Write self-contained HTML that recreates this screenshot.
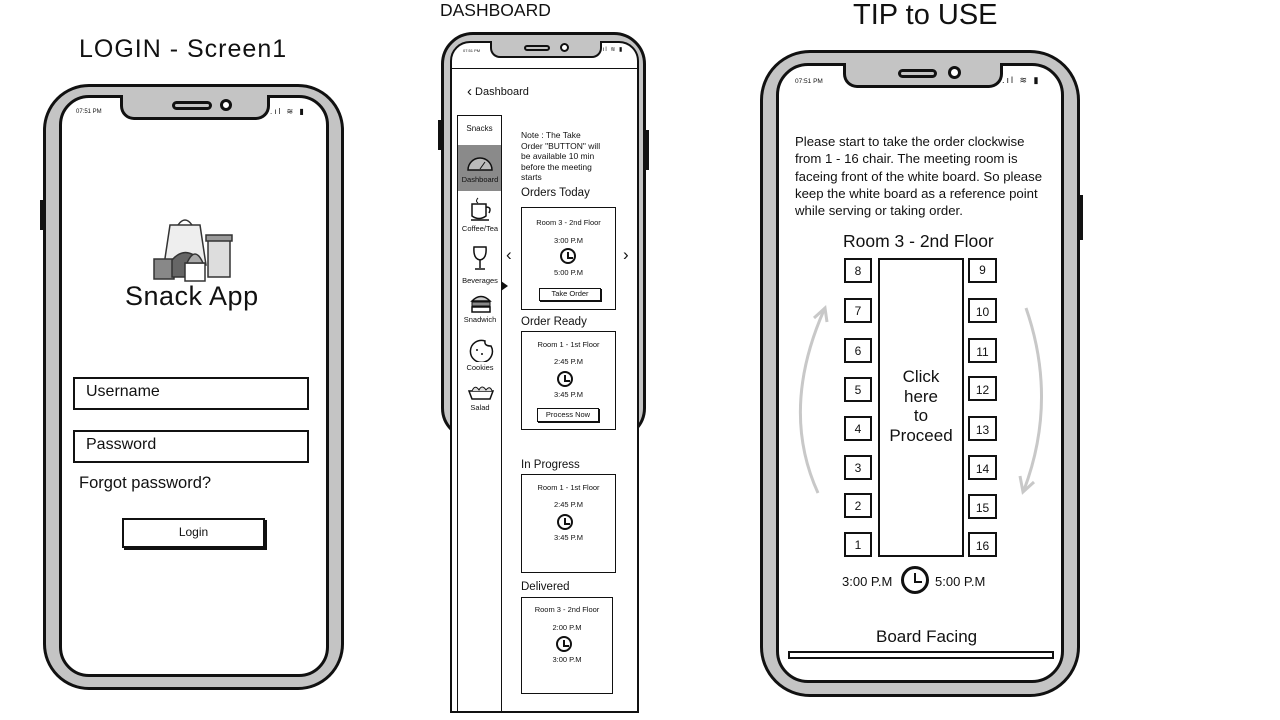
<!DOCTYPE html>
<html><head><meta charset="utf-8">
<style>
*{margin:0;padding:0;box-sizing:border-box}
body{width:1280px;height:720px;background:#fff;position:relative;overflow:hidden;font-family:"Liberation Sans",sans-serif;color:#111}
.a{position:absolute}
.phone{position:absolute;border:3px solid #111;background:#c4c4c4}
.screen{position:absolute;background:#fff;border:3px solid #111}
.notch{position:absolute;background:#c4c4c4;border:3px solid #111;border-top:none;border-radius:0 0 14px 14px}
.spk{position:absolute;border:3px solid #111;border-radius:6px;background:#c4c4c4}
.cam{position:absolute;border:3px solid #111;border-radius:50%;background:#fff}
.t{position:absolute;white-space:nowrap}
.box{position:absolute;border:2px solid #111;background:#fff}
.clock{position:absolute;border:2.5px solid #111;border-radius:50%;background:#fff}
.clock:after{content:"";position:absolute;left:45%;top:20%;width:30%;height:35%;border-left:2px solid #111;border-bottom:2px solid #111}
.c{text-align:center}
</style></head><body>

<!-- Titles -->
<div class="t" style="left:79px;top:35px;font-size:25px;letter-spacing:1px">LOGIN - Screen1</div>
<div class="t" style="left:440px;top:0px;font-size:17.5px">DASHBOARD</div>
<div class="t" style="left:853px;top:-1px;font-size:29px">TIP to USE</div>

<!-- LOGIN PHONE -->
<div class="a" style="left:40px;top:200px;width:5px;height:30px;background:#111"></div>
<div class="phone" style="left:43px;top:84px;width:301px;height:606px;border-radius:46px"></div>
<div class="screen" style="left:59px;top:95px;width:270px;height:582px;border-radius:30px"></div>
<div class="notch" style="left:120px;top:95px;width:150px;height:25px"></div>
<div class="spk" style="left:172px;top:101px;width:40px;height:9px"></div>
<div class="cam" style="left:220px;top:99px;width:12px;height:12px"></div>
<div class="t" style="left:76px;top:109px;font-size:6px">07:51 PM</div>
<div class="t" style="left:270px;top:107px;font-size:8px;letter-spacing:2px">.ıl ≋ ▮</div>

<svg class="a" style="left:140px;top:215px" width="95" height="70">
 <g fill="#bbb" stroke="#333" stroke-width="1.5">
  <path d="M30 10 L60 10 L66 50 L24 50 Z" fill="#eee"/>
  <path d="M38 10 Q45 0 52 10" fill="none"/>
  <rect x="68" y="22" width="22" height="40" fill="#ddd"/>
  <rect x="66" y="20" width="26" height="6" fill="#999"/>
  <rect x="14" y="44" width="20" height="20" fill="#888"/>
  <path d="M32 62 L32 45 Q45 30 60 45 L60 62 Z" fill="#666"/>
  <rect x="45" y="48" width="20" height="18" fill="#fff"/>
  <path d="M47 48 Q55 30 63 48 Z" fill="#aaa"/>
 </g>
</svg>
<div class="t" style="left:125px;top:281px;font-size:27px;letter-spacing:0.5px">Snack App</div>
<div class="box" style="left:73px;top:377px;width:236px;height:33px"></div>
<div class="t" style="left:86px;top:383px;font-size:16px">Username</div>
<div class="box" style="left:73px;top:430px;width:236px;height:33px"></div>
<div class="t" style="left:86px;top:436px;font-size:16px">Password</div>
<div class="t" style="left:79px;top:474px;font-size:16.5px">Forgot password?</div>
<div class="box" style="left:122px;top:518px;width:143px;height:30px;box-shadow:2px 2px 0 #111"></div>
<div class="t" style="left:122px;top:525px;width:143px;font-size:12px;text-align:center">Login</div>

<!-- DASHBOARD PHONE -->
<div class="a" style="left:438px;top:120px;width:4px;height:30px;background:#111"></div>
<div class="a" style="left:645px;top:130px;width:4px;height:40px;background:#111"></div>
<div class="phone" style="left:441px;top:32px;width:205px;height:408px;border-radius:32px"></div>
<div class="screen" style="left:450px;top:41px;width:189px;height:672px;border-radius:20px 20px 0 0;border-width:2px"></div>
<div class="notch" style="left:490px;top:41px;width:112px;height:17px;border-width:2px;border-radius:0 0 10px 10px"></div>
<div class="spk" style="left:524px;top:45px;width:26px;height:6px;border-width:2px"></div>
<div class="cam" style="left:560px;top:43px;width:9px;height:9px;border-width:2px"></div>
<div class="t" style="left:463px;top:48px;font-size:4px">07:51 PM</div>
<div class="t" style="left:600px;top:46px;font-size:6px;letter-spacing:1px">.ıl ≋ ▮</div>
<div class="a" style="left:451px;top:68px;width:187px;height:1px;background:#111"></div>
<div class="t" style="left:467px;top:82px;font-size:11px"><span style="font-size:15px;position:relative;top:1px">‹</span> Dashboard</div>
<div class="a" style="left:457px;top:115px;width:45px;height:598px;border:1.5px solid #111;border-bottom:none"></div>
<div class="t" style="left:457px;top:124px;width:45px;font-size:8px;text-align:center">Snacks</div>
<div class="a" style="left:458px;top:145px;width:43px;height:46px;background:#8a8a8a"></div>
<svg class="a" style="left:466px;top:154px" width="28" height="18"><path d="M2 16 A12 12 0 0 1 26 16 Z" fill="#bbb" stroke="#111" stroke-width="1.5"/><path d="M14 15 L19 8" stroke="#111"/></svg>
<div class="t" style="left:457px;top:175px;width:46px;font-size:7.5px;text-align:center">Dashboard</div>
<svg class="a" style="left:469px;top:196px" width="26" height="26"><path d="M3 8 L3 20 Q10 25 17 20 L17 8 Z M17 11 Q23 11 20 17" fill="none" stroke="#111" stroke-width="1.5"/><path d="M9 2 Q6 5 9 7" fill="none" stroke="#111"/><line x1="2" y1="24" x2="20" y2="24" stroke="#111" stroke-width="1.5"/></svg>
<div class="t" style="left:457px;top:224px;width:46px;font-size:7.5px;text-align:center">Coffee/Tea</div>
<svg class="a" style="left:471px;top:245px" width="18" height="28"><path d="M3 2 L15 2 Q16 14 9 15 Q2 14 3 2 Z M9 15 L9 23 M4 24 L14 24" fill="none" stroke="#111" stroke-width="1.5"/></svg>
<div class="t" style="left:457px;top:276px;width:46px;font-size:7.5px;text-align:center">Beverages</div>
<div class="a" style="left:501px;top:281px;width:0;height:0;border-left:7px solid #111;border-top:5px solid transparent;border-bottom:5px solid transparent"></div>
<svg class="a" style="left:470px;top:292px" width="22" height="22"><path d="M2 9 Q11 0 20 9 Z" fill="#ccc" stroke="#111" stroke-width="1.5"/><rect x="2" y="10" width="18" height="4" fill="#888" stroke="#111"/><rect x="2" y="15" width="18" height="5" fill="#fff" stroke="#111" stroke-width="1.5"/></svg>
<div class="t" style="left:457px;top:315px;width:46px;font-size:7.5px;text-align:center">Snadwich</div>
<svg class="a" style="left:467px;top:338px" width="28" height="24"><path d="M24 8 A11 11 0 1 1 18 3 Q17 8 24 8 Z" fill="#fff" stroke="#111" stroke-width="1.5"/><circle cx="10" cy="12" r="1" fill="#111"/><circle cx="15" cy="16" r="1" fill="#111"/></svg>
<div class="t" style="left:457px;top:363px;width:46px;font-size:7.5px;text-align:center">Cookies</div>
<svg class="a" style="left:466px;top:383px" width="30" height="20"><path d="M3 8 L27 8 L24 16 L6 16 Z" fill="#fff" stroke="#111" stroke-width="1.5"/><path d="M6 8 Q9 1 13 7 Q16 1 20 7 Q24 2 26 8" fill="#ddd" stroke="#111"/></svg>
<div class="t" style="left:457px;top:403px;width:46px;font-size:7.5px;text-align:center">Salad</div>

<div class="t" style="left:521px;top:130px;font-size:8.5px;line-height:10.5px">Note : The Take<br>Order "BUTTON" will<br>be available 10 min<br>before the meeting<br>starts</div>
<div class="t" style="left:521px;top:187px;font-size:11.5px">Orders Today</div>
<div class="t" style="left:506px;top:245px;font-size:17px">‹</div>
<div class="t" style="left:623px;top:245px;font-size:17px">›</div>
<div class="box" style="left:521px;top:207px;width:95px;height:103px;border-width:1.5px"></div>
<div class="t" style="left:521px;top:218px;width:95px;font-size:7.5px;text-align:center">Room 3 - 2nd Floor</div>
<div class="t" style="left:521px;top:236px;width:95px;font-size:7.5px;text-align:center">3:00 P.M</div>
<div class="clock" style="left:560px;top:248px;width:16px;height:16px"></div>
<div class="t" style="left:521px;top:268px;width:95px;font-size:7.5px;text-align:center">5:00 P.M</div>
<div class="box" style="left:539px;top:288px;width:62px;height:13px;border-width:1.5px;box-shadow:1px 1px 0 #111;font-size:7.5px;text-align:center;line-height:10px">Take Order</div>

<div class="t" style="left:521px;top:316px;font-size:11.5px">Order Ready</div>
<div class="box" style="left:521px;top:331px;width:95px;height:99px;border-width:1.5px"></div>
<div class="t" style="left:521px;top:340px;width:95px;font-size:7.5px;text-align:center">Room 1 - 1st Floor</div>
<div class="t" style="left:521px;top:357px;width:95px;font-size:7.5px;text-align:center">2:45 P.M</div>
<div class="clock" style="left:557px;top:371px;width:16px;height:16px"></div>
<div class="t" style="left:521px;top:390px;width:95px;font-size:7.5px;text-align:center">3:45 P.M</div>
<div class="box" style="left:537px;top:408px;width:62px;height:14px;border-width:1.5px;box-shadow:1px 1px 0 #111;font-size:7.5px;text-align:center;line-height:11px">Process Now</div>

<div class="t" style="left:521px;top:459px;font-size:11.5px">In Progress</div>
<div class="box" style="left:521px;top:474px;width:95px;height:99px;border-width:1.5px"></div>
<div class="t" style="left:521px;top:483px;width:95px;font-size:7.5px;text-align:center">Room 1 - 1st Floor</div>
<div class="t" style="left:521px;top:500px;width:95px;font-size:7.5px;text-align:center">2:45 P.M</div>
<div class="clock" style="left:557px;top:514px;width:16px;height:16px"></div>
<div class="t" style="left:521px;top:533px;width:95px;font-size:7.5px;text-align:center">3:45 P.M</div>

<div class="t" style="left:521px;top:581px;font-size:11.5px">Delivered</div>
<div class="box" style="left:521px;top:597px;width:92px;height:97px;border-width:1.5px"></div>
<div class="t" style="left:521px;top:605px;width:92px;font-size:7.5px;text-align:center">Room 3 - 2nd Floor</div>
<div class="t" style="left:521px;top:623px;width:92px;font-size:7.5px;text-align:center">2:00 P.M</div>
<div class="clock" style="left:556px;top:636px;width:16px;height:16px"></div>
<div class="t" style="left:521px;top:655px;width:92px;font-size:7.5px;text-align:center">3:00 P.M</div>

<!-- TIP PHONE -->
<div class="a" style="left:1078px;top:195px;width:5px;height:45px;background:#111"></div>
<div class="phone" style="left:760px;top:50px;width:320px;height:647px;border-radius:50px"></div>
<div class="screen" style="left:776px;top:63px;width:288px;height:620px;border-radius:32px"></div>
<div class="notch" style="left:843px;top:63px;width:160px;height:25px"></div>
<div class="spk" style="left:898px;top:69px;width:39px;height:9px"></div>
<div class="cam" style="left:948px;top:66px;width:13px;height:13px"></div>
<div class="t" style="left:795px;top:78px;font-size:6.5px">07:51 PM</div>
<div class="t" style="left:1002px;top:75px;font-size:9px;letter-spacing:2px">.ıl ≋ ▮</div>
<div class="t" style="left:795px;top:133px;font-size:13.2px;line-height:17.3px">Please start to take the order clockwise<br>from 1 - 16 chair. The meeting room is<br>faceing front of the white board. So please<br>keep the white board as a reference point<br>while serving or taking order.</div>
<div class="t" style="left:843px;top:231px;font-size:17.5px">Room 3 - 2nd Floor</div>
<div class="box" style="left:878px;top:258px;width:86px;height:299px"></div>
<div class="t" style="left:878px;top:367px;width:86px;font-size:17px;line-height:19.5px;text-align:center;white-space:normal">Click<br>here<br>to<br>Proceed</div>

<div class="box" style="left:844px;top:258px;width:28px;height:25px;font-size:12px;line-height:23px;text-align:center">8</div>
<div class="box" style="left:844px;top:298px;width:28px;height:25px;font-size:12px;line-height:23px;text-align:center">7</div>
<div class="box" style="left:844px;top:338px;width:28px;height:25px;font-size:12px;line-height:23px;text-align:center">6</div>
<div class="box" style="left:844px;top:377px;width:28px;height:25px;font-size:12px;line-height:23px;text-align:center">5</div>
<div class="box" style="left:844px;top:416px;width:28px;height:25px;font-size:12px;line-height:23px;text-align:center">4</div>
<div class="box" style="left:844px;top:455px;width:28px;height:25px;font-size:12px;line-height:23px;text-align:center">3</div>
<div class="box" style="left:844px;top:493px;width:28px;height:25px;font-size:12px;line-height:23px;text-align:center">2</div>
<div class="box" style="left:844px;top:532px;width:28px;height:25px;font-size:12px;line-height:23px;text-align:center">1</div>

<div class="box" style="left:968px;top:258px;width:29px;height:25px;font-size:12px;line-height:21px;text-align:center">9</div>
<div class="box" style="left:968px;top:298px;width:29px;height:25px;font-size:12px;line-height:25px;text-align:center">10</div>
<div class="box" style="left:968px;top:338px;width:29px;height:25px;font-size:12px;line-height:25px;text-align:center">11</div>
<div class="box" style="left:968px;top:376px;width:29px;height:25px;font-size:12px;line-height:25px;text-align:center">12</div>
<div class="box" style="left:968px;top:416px;width:29px;height:25px;font-size:12px;line-height:25px;text-align:center">13</div>
<div class="box" style="left:968px;top:455px;width:29px;height:25px;font-size:12px;line-height:25px;text-align:center">14</div>
<div class="box" style="left:968px;top:494px;width:29px;height:25px;font-size:12px;line-height:25px;text-align:center">15</div>
<div class="box" style="left:968px;top:532px;width:29px;height:25px;font-size:12px;line-height:25px;text-align:center">16</div>

<svg class="a" style="left:790px;top:300px" width="260" height="200">
 <g fill="none" stroke="#c8c8c8" stroke-width="3">
  <path d="M28 193 Q-10 110 34 10"/>
  <path d="M24 18 L35 8 L37 22"/>
  <path d="M236 8 Q268 100 234 190"/>
  <path d="M230 176 L233 192 L244 182"/>
 </g>
</svg>
<div class="t" style="left:842px;top:574px;font-size:13px">3:00 P.M</div>
<div class="clock" style="left:901px;top:566px;width:28px;height:28px;border-width:3.5px"></div>
<div class="t" style="left:935px;top:574px;font-size:13px">5:00 P.M</div>
<div class="t" style="left:876px;top:627px;font-size:17px">Board Facing</div>
<div class="box" style="left:788px;top:651px;width:266px;height:8px"></div>

</body></html>
